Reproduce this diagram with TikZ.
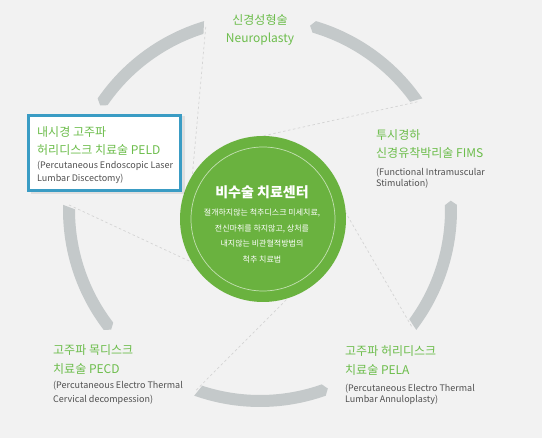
\documentclass[tikz,border=0pt]{standalone}
\usepackage{fontspec}
\setmainfont{Noto Sans CJK KR}
\usetikzlibrary{calc}
\definecolor{bg}{HTML}{F2F2F2}
\definecolor{ringc}{HTML}{C4C9CA}
\definecolor{greenfill}{HTML}{6AB23F}
\definecolor{greentext}{HTML}{6CBD4B}
\definecolor{graytext}{HTML}{505050}
\definecolor{boxblue}{HTML}{3A9CC4}
\definecolor{dashc}{HTML}{D4D4D4}
\tikzset{
  ttl/.style={text=greentext, font=\fontsize{12}{14}\selectfont, inner sep=0pt, anchor=base west},
  ttlc/.style={ttl, anchor=base},
  sub/.style={text=graytext, font=\fontsize{9}{10}\selectfont, inner sep=0pt, anchor=base west},
  ctitle/.style={text=white, font=\bfseries\fontsize{14}{16}\selectfont, inner sep=0pt, anchor=base},
  cbody/.style={text=white, font=\fontsize{8}{10}\selectfont, inner sep=0pt, anchor=base},
  dashln/.style={draw=dashc, line width=0.7pt, dash pattern=on 2.5pt off 2.5pt},
}
\begin{document}
\begin{tikzpicture}[x=1pt,y=1pt]
\fill[bg] (0,0) rectangle (542,438);
\useasboundingbox (0,0) rectangle (542,438);
\coordinate (C) at (260,228);
\coordinate (G) at (263,219);
% ring segments
\foreach \a in {54,126,198,270,342} {
  \pgfmathsetmacro\sa{\a-19.5}
  \pgfmathsetmacro\sb{\a-18.2}
  \pgfmathsetmacro\ea{\a+19.5}
  \pgfmathsetmacro\eb{\a+20.8}
  \fill[ringc] ($(C)+(\sa:197pt)$) arc[start angle=\sa, end angle=\ea, radius=197pt]
    -- ($(C)+(\eb:191pt)$) -- ($(C)+(\ea:185pt)$)
    arc[start angle=\ea, end angle=\sb, radius=185pt] -- cycle;
}
% dashed lines
\coordinate (s1) at ($(C)+(106.5:191pt)$);
\coordinate (s2) at ($(C)+(34.5:191pt)$);
\coordinate (s3) at ($(C)+(178.5:191pt)$);
\coordinate (s4) at ($(C)+(322.5:191pt)$);
\coordinate (s5) at ($(C)+(250.5:191pt)$);
\coordinate (e1) at (191,248);
\coordinate (e2) at (258,301);
\coordinate (e3) at (202,171);
\coordinate (e4) at (343,230);
\coordinate (e5) at (288,140);
\draw[dashln] (s1) -- (e1);
\draw[dashln] (s2) -- (e2);
\draw[dashln] (s3) -- (e3);
\draw[dashln] (s4) -- (e4);
\draw[dashln] (s5) -- (e5);
% center circle
\node[circle, fill=greenfill, minimum size=166pt, inner sep=0pt] (core) at (G) {};
\draw[white, opacity=0.6, line width=0.7pt] (G) circle[radius=72pt];
\node[ctitle] (ct) at (262,240) {비수술 치료센터};
\node[cbody] (cb1) at (262,222) {절개하지않는 척추디스크 미세치료,};
\node[cbody] (cb2) at (262,206.5) {전신마취를 하지않고, 상처를};
\node[cbody] (cb3) at (262,191) {내지않는 비관혈적방법의};
\node[cbody] (cb4) at (262,175.5) {척추 치료법};
% top
\node[ttlc] (np1) at (260,413.5) {신경성형술};
\node[ttlc] (np2) at (260,395.5) {Neuroplasty};
% PELD box
\fill[black, opacity=0.08] (31,244) rectangle (185,322);
\node[draw=boxblue, line width=3pt, fill=white, minimum width=152pt, minimum height=75pt, inner sep=0pt] (peldbox) at (104.5,285) {};
\node[ttl] (pe1) at (37,301.5) {내시경 고주파};
\node[ttl] (pe2) at (37,283.5) {허리디스크 치료술 PELD};
\node[sub] (pe3) at (37,269) {(Percutaneous Endoscopic Laser};
\node[sub] (pe4) at (37,256) {Lumbar Discectomy)};
% FIMS
\node[ttl] (fi1) at (376,298.5) {투시경하};
\node[ttl] (fi2) at (376,280.2) {신경유착박리술 FIMS};
\node[sub] (fi3) at (376,262.3) {(Functional Intramuscular};
\node[sub] (fi4) at (376,251) {Stimulation)};
% PECD
\node[ttl] (pc1) at (53,83) {고주파 목디스크};
\node[ttl] (pc2) at (53,64.5) {치료술 PECD};
\node[sub] (pc3) at (53,49) {(Percutaneous Electro Thermal};
\node[sub] (pc4) at (53,35.7) {Cervical decompession)};
% PELA
\node[ttl] (pa1) at (345,82.5) {고주파 허리디스크};
\node[ttl] (pa2) at (345,63.5) {치료술 PELA};
\node[sub] (pa3) at (345,46.7) {(Percutaneous Electro Thermal};
\node[sub] (pa4) at (345,35) {Lumbar Annuloplasty)};
\end{tikzpicture}
\end{document}
